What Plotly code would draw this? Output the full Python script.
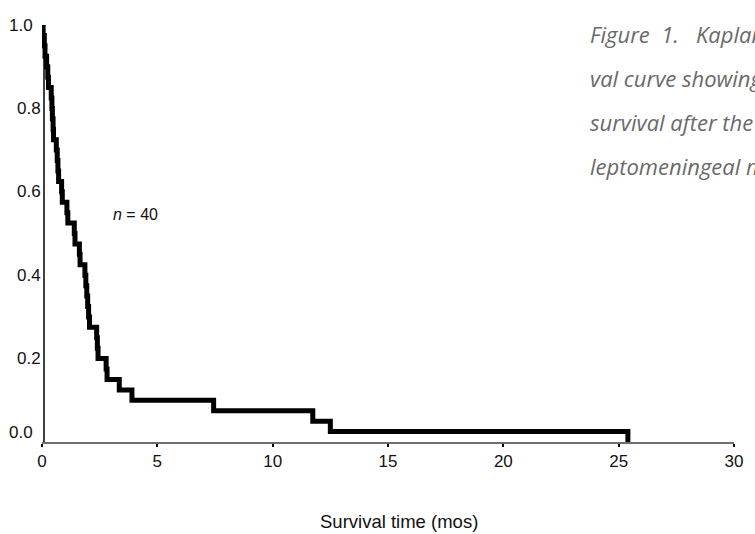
import plotly.graph_objects as go

# Kaplan-Meier estimate, n = 40 patients (time in months, survival after each event)
event_times = [0.00, 0.05, 0.10, 0.13, 0.20, 0.25, 0.28, 0.40, 0.43, 0.45,
               0.48, 0.50, 0.62, 0.66, 0.69, 0.72, 0.85, 0.88, 1.08, 1.12,
               1.40, 1.43, 1.62, 1.65, 1.86, 1.90, 1.94, 1.98, 2.02, 2.06,
               2.37, 2.40, 2.43, 2.78, 2.82, 3.35, 3.90, 7.44, 11.74, 12.50,
               25.40]
survival = [1.000, 0.975, 0.950, 0.925, 0.900, 0.875, 0.850, 0.825, 0.800, 0.775,
            0.750, 0.725, 0.700, 0.675, 0.650, 0.625, 0.600, 0.575, 0.550, 0.525,
            0.500, 0.475, 0.450, 0.425, 0.400, 0.375, 0.350, 0.325, 0.300, 0.275,
            0.250, 0.225, 0.200, 0.175, 0.150, 0.125, 0.100, 0.075, 0.050, 0.025,
            0.000]

x_ticks = [0, 5, 10, 15, 20, 25, 30]
y_ticks = [0.0, 0.2, 0.4, 0.6, 0.8, 1.0]
y_tick_labels = ["0.0", "0.2", "0.4", "0.6", "0.8", "1.0"]

NBSP = "\u00a0"
caption_lines = [
    f"Figure{NBSP * 2}1.{NBSP * 3}Kaplan-Meier survi-",
    "val curve showing overall",
    "survival after the diagnosis of",
    "leptomeningeal metastasis.",
]

AXIS_FONT = "Liberation Sans, Arial, sans-serif"

# pixel geometry of the plotting area
W, H = 755, 534
L, R, T, B = 42, 16, 25, 92
PW, PH = W - L - R, H - T - B

fig = go.Figure()
fig.add_trace(go.Scatter(
    x=event_times, y=survival,
    mode="lines", line=dict(shape="hv", color="black", width=5),
    cliponaxis=False, hoverinfo="skip", showlegend=False,
))

fig.update_layout(
    width=W, height=H,
    margin=dict(l=L, r=R, t=T, b=B),
    paper_bgcolor="white", plot_bgcolor="white",
    xaxis=dict(
        range=[0, 30], tickvals=x_ticks, ticktext=[str(v) for v in x_ticks],
        showgrid=False, zeroline=False,
        showline=True, linecolor="#6e6e6e", linewidth=1.5,
        ticks="outside", ticklen=3, tickwidth=2, tickcolor="black",
        tickfont=dict(family=AXIS_FONT, size=17, color="#111111"),
    ),
    yaxis=dict(
        range=[0, 1], showgrid=False, zeroline=False,
        showline=False, showticklabels=False, ticks="",
    ),
)

# vertical axis line, just right of x = 0
fig.add_shape(type="line", xref="x", yref="y", xsizemode="pixel", xanchor=0,
              x0=2, x1=2, y0=0, y1=1, line=dict(color="black", width=1.5),
              layer="above")

# y tick labels
for val, txt in zip(y_ticks, y_tick_labels):
    end_label = val in (0.0, 1.0)
    fig.add_annotation(
        x=0, xref="paper", y=val, yref="y", text=txt, showarrow=False,
        xanchor="right", yanchor="middle",
        xshift=-7 if end_label else 1, yshift=10 if val == 0.0 else 0,
        font=dict(family=AXIS_FONT, size=17, color="#111111"),
    )

# axis title
fig.add_annotation(
    x=(402 - L) / PW, xref="paper", y=-(521 - (H - B)) / PH, yref="paper",
    text="Survival time (mos)", showarrow=False,
    xanchor="center", yanchor="middle",
    font=dict(family=AXIS_FONT, size=18.5, color="#111111"),
)

# sample size
fig.add_annotation(
    x=3.0, xref="x", y=0.545, yref="y", text="<i>n</i> = 40", showarrow=False,
    xanchor="left", yanchor="middle",
    font=dict(family=AXIS_FONT, size=16, color="#111111"),
)

# figure caption, running off the right edge
for i, line in enumerate(caption_lines):
    baseline = 45 + 44 * i
    fig.add_annotation(
        x=(592 - L) / PW, xref="paper", y=((H - B) - baseline) / PH, yref="paper",
        text=f"<i>{line}</i>", showarrow=False,
        xanchor="left", yanchor="bottom", yshift=-6,
        font=dict(family="Open Sans, sans-serif", size=22, color="#6a6a6a"),
    )

fig.write_html("out.html")
